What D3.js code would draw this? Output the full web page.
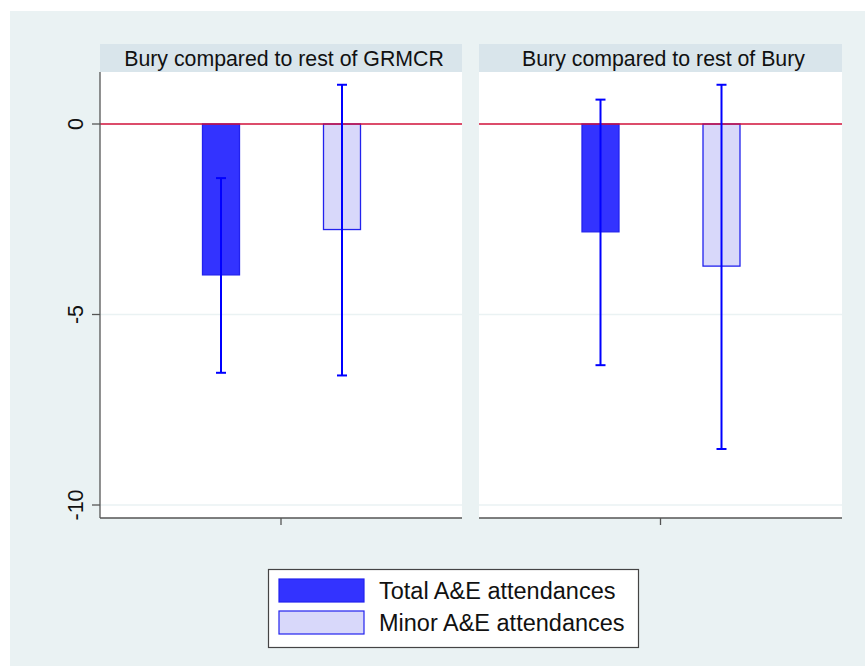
<!DOCTYPE html>
<html><head><meta charset="utf-8">
<script src="https://cdn.jsdelivr.net/npm/d3@7"></script>
<style>body{margin:0;background:#fff}svg{display:block;font-family:"Liberation Sans",Arial,sans-serif}</style>
</head><body><svg id="c" width="865" height="666"></svg>
<script>
const panels = ["Bury compared to rest of GRMCR", "Bury compared to rest of Bury"];
const seriesNames = ["Total A&E attendances", "Minor A&E attendances"];
const estimates = [[-3.96, -2.77], [-2.83, -3.73]];
const ciLow = [[-6.53, -6.6], [-6.33, -8.53]];
const ciHigh = [[-1.42, 1.03], [0.64, 1.03]];
const yTicks = [0, -5, -10];
const fills = ["#3333ff", "#d8d8fa"];

const svg = d3.select("#c");
svg.append("rect").attr("x", 10).attr("y", 11).attr("width", 855).attr("height", 655).attr("fill", "#eaf2f3");

const y = d3.scaleLinear().domain([0, -10]).range([124, 505]);
const plotTop = 72, plotBottom = 518;
const panelX = [[100, 462], [479, 842]];

panels.forEach((title, p) => {
  const [x0, x1] = panelX[p];
  const g = svg.append("g");
  g.append("rect").attr("x", x0).attr("y", 44).attr("width", x1 - x0).attr("height", 28).attr("fill", "#d9e5eb");
  g.append("text").attr("x", (x0 + x1) / 2 + 3).attr("y", 66).attr("text-anchor", "middle").attr("font-size", 21.3).attr("fill", "#111").text(title);
  g.append("rect").attr("x", x0).attr("y", plotTop).attr("width", x1 - x0).attr("height", plotBottom - plotTop).attr("fill", "#fff");
  yTicks.filter(t => t !== 0).forEach(t => {
    g.append("line").attr("x1", x0).attr("x2", x1).attr("y1", y(t)).attr("y2", y(t)).attr("stroke", "#eaf2f3").attr("stroke-width", 1.5);
  });
  const cx = d3.scalePoint().domain(seriesNames).range([(x0 + x1) / 2 - 60, (x0 + x1) / 2 + 61]);
  const bw = 37;
  seriesNames.forEach((s, i) => {
    const v = estimates[p][i];
    g.append("rect").attr("x", cx(s) - bw / 2).attr("y", y(0)).attr("width", bw).attr("height", y(v) - y(0))
      .attr("fill", fills[i]).attr("stroke", "#2222ee").attr("stroke-width", 1.3);
  });
  g.append("line").attr("x1", x0).attr("x2", x1).attr("y1", y(0)).attr("y2", y(0)).attr("stroke", "#d0103a").attr("stroke-width", 1.6);
  seriesNames.forEach((s, i) => {
    const c = cx(s);
    const lo = ciLow[p][i], hi = ciHigh[p][i];
    g.append("line").attr("x1", c).attr("x2", c).attr("y1", y(hi)).attr("y2", y(lo)).attr("stroke", "#0000ff").attr("stroke-width", 2);
    [lo, hi].forEach(v => g.append("line").attr("x1", c - 5).attr("x2", c + 5).attr("y1", y(v)).attr("y2", y(v)).attr("stroke", "#0000ff").attr("stroke-width", 2));
  });
  g.append("line").attr("x1", x0).attr("x2", x1).attr("y1", plotBottom).attr("y2", plotBottom).attr("stroke", "#555").attr("stroke-width", 1.3);
  g.append("line").attr("x1", (x0 + x1) / 2).attr("x2", (x0 + x1) / 2).attr("y1", plotBottom).attr("y2", plotBottom + 7).attr("stroke", "#555").attr("stroke-width", 1.3);
});

const ax = svg.append("g");
ax.append("line").attr("x1", 100).attr("x2", 100).attr("y1", plotTop).attr("y2", plotBottom).attr("stroke", "#555").attr("stroke-width", 1.3);
yTicks.forEach(t => {
  ax.append("line").attr("x1", 92).attr("x2", 100).attr("y1", y(t)).attr("y2", y(t)).attr("stroke", "#555").attr("stroke-width", 1.3);
  ax.append("text").attr("transform", `translate(83,${y(t)}) rotate(-90)`).attr("text-anchor", "middle").attr("font-size", 21.5).attr("fill", "#111").text(t);
});

const lg = svg.append("g");
lg.append("rect").attr("x", 268.5).attr("y", 569.5).attr("width", 370).attr("height", 78).attr("fill", "#fff").attr("stroke", "#444").attr("stroke-width", 1.2);
seriesNames.forEach((s, i) => {
  const yy = 579 + i * 32;
  lg.append("rect").attr("x", 279).attr("y", yy).attr("width", 85).attr("height", 23).attr("fill", fills[i]).attr("stroke", "#2222ee").attr("stroke-width", 1.2);
  lg.append("text").attr("x", 379).attr("y", yy + 20).attr("font-size", 23.5).attr("fill", "#111").text(s);
});
</script></body></html>
